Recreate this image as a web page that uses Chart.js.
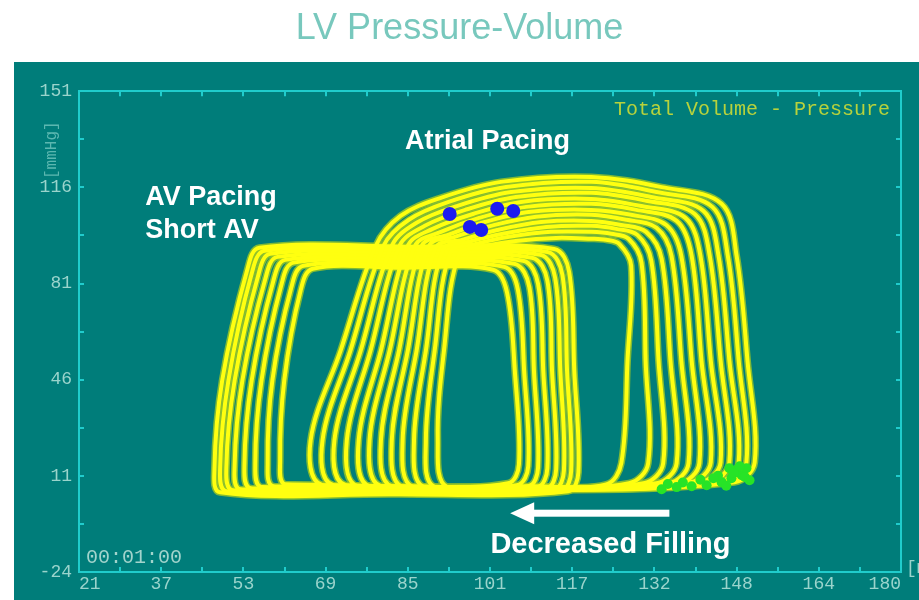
<!DOCTYPE html>
<html>
<head>
<meta charset="utf-8">
<title>LV Pressure-Volume</title>
<script src="https://cdn.jsdelivr.net/npm/chart.js@4.4.1/dist/chart.umd.min.js"></script>
<style>
  html, body { margin: 0; padding: 0; background: #ffffff; }
  canvas { display: block; }
</style>
</head>
<body>
<canvas id="pv" width="919" height="600"></canvas>
<script>
// Axis ranges and tick labels (volume in ml, pressure in mmHg)
const volumeMin = 21, volumeMax = 180;
const pressureMin = -24, pressureMax = 151;
const volumeTickLabels = ['21', '37', '53', '69', '85', '101', '117', '132', '148', '164', '180'];
const pressureTickLabels = ['-24', '11', '46', '81', '116', '151'];

// AV pacing, short AV delay: beats as [volume, pressure] samples
const avBeat1 = [[48.3,5.0],[82.3,4.3],[115.6,5.4],[117.6,12.3],[116.8,49.3],[115.8,85.3],[112.9,93.6],[84.6,94.4],[55.9,94.0],[53.6,86.4],[48.7,45.7],[47.2,13.4]];
const avBeat2 = [[49.5,5.4],[82.3,4.7],[114.3,5.8],[116.2,12.7],[115.4,49.3],[114.5,84.2],[111.6,92.5],[84.4,93.3],[56.9,92.9],[54.5,85.3],[49.9,45.7],[48.3,13.8]];
const avBeat3 = [[50.7,5.8],[82.3,5.0],[112.9,6.1],[114.8,13.0],[114.1,49.3],[113.1,83.1],[110.2,91.5],[84.4,92.2],[58.0,91.8],[55.7,84.2],[51.1,45.7],[49.5,14.1]];
const avBeat4 = [[52.2,6.1],[82.3,5.4],[111.4,6.5],[113.3,13.4],[112.5,49.3],[111.6,82.0],[108.6,90.4],[84.2,91.1],[59.4,90.7],[57.1,83.1],[52.6,45.7],[51.1,14.5]];
const avBeat5 = [[54.2,6.5],[82.3,5.8],[109.6,6.9],[111.6,13.8],[110.8,49.3],[109.8,80.9],[106.9,89.3],[84.2,90.0],[60.9,89.6],[58.6,82.0],[54.4,45.7],[53.0,14.8]];
const avBeat6 = [[56.3,6.9],[82.3,6.1],[107.9,7.2],[109.8,14.1],[109.0,49.3],[108.1,79.8],[105.2,88.2],[84.2,88.9],[62.5,88.6],[60.2,80.9],[56.3,45.7],[55.1,15.2]];
const avBeat7 = [[58.6,7.2],[82.3,6.5],[105.7,7.6],[107.9,14.5],[107.1,49.3],[105.9,78.7],[103.2,87.1],[84.0,87.8],[64.4,87.5],[62.1,79.8],[58.4,45.7],[57.5,15.6]];
const avBeat8 = [[60.9,7.9],[83.2,7.2],[104.0,8.3],[106.1,15.2],[105.3,49.3],[103.8,77.7],[101.1,86.0],[83.2,86.7],[66.2,86.4],[63.9,78.7],[60.7,45.7],[59.9,16.3]];

// Atrial pacing beats
const atrialBeat1  = [[68.1,7.6],[108.4,5.8],[147.8,8.7],[151.7,15.9],[150.3,53.0],[148.2,91.1],[145.3,110.0],[133.7,116.1],[120.1,119.8],[102.6,118.0],[91.0,112.2],[83.2,105.6],[78.4,94.7],[71.6,56.6],[65.8,23.9]];
const atrialBeat2  = [[70.2,7.6],[108.4,6.1],[146.3,8.7],[150.1,15.9],[148.6,53.0],[146.5,91.1],[143.5,108.9],[132.7,114.3],[120.1,118.0],[103.6,116.1],[92.5,110.7],[84.8,104.2],[79.9,94.7],[73.5,56.6],[68.1,23.9]];
const atrialBeat3  = [[72.6,7.6],[108.4,6.1],[144.7,8.7],[148.6,15.9],[146.8,53.0],[144.7,91.1],[141.8,107.4],[131.7,112.5],[120.1,115.8],[104.6,114.3],[94.1,109.2],[86.3,103.1],[81.5,94.7],[75.5,56.6],[70.4,23.9]];
const atrialBeat4  = [[74.9,7.2],[108.4,6.5],[143.0,8.7],[146.8,15.9],[145.1,53.0],[143.0,91.1],[140.1,106.3],[130.7,111.1],[120.1,114.0],[105.5,112.5],[95.7,107.8],[87.9,102.0],[83.0,94.7],[77.4,56.6],[72.8,23.9]];
const atrialBeat5  = [[77.2,7.2],[108.4,6.5],[141.2,8.7],[145.1,15.9],[143.2,53.0],[141.2,91.1],[138.3,104.9],[129.8,109.2],[120.1,111.8],[106.5,110.7],[97.2,106.3],[89.4,100.9],[84.6,94.7],[79.4,56.6],[75.1,23.9]];
const atrialBeat6  = [[79.4,7.2],[108.4,6.5],[139.3,8.7],[143.2,15.9],[141.4,53.0],[139.5,91.1],[136.6,103.8],[128.8,107.8],[120.1,110.0],[107.5,108.9],[98.4,104.9],[91.0,99.8],[86.0,94.7],[81.1,56.6],[77.2,23.9]];
const atrialBeat7  = [[81.5,7.2],[108.4,6.5],[137.1,8.3],[141.0,15.6],[139.5,53.0],[137.5,91.1],[134.6,102.3],[127.8,106.0],[120.1,107.8],[108.4,107.1],[99.5,103.4],[92.4,98.7],[87.3,94.7],[82.9,56.6],[79.4,23.9]];
const atrialBeat8  = [[83.6,6.9],[108.4,6.5],[135.0,8.3],[138.9,15.6],[137.5,53.0],[135.6,91.1],[132.7,101.3],[126.9,104.2],[120.1,106.0],[109.4,105.3],[100.7,102.0],[93.7,98.0],[88.7,94.7],[84.6,56.6],[81.5,23.9]];
const atrialBeat9  = [[85.6,6.9],[108.4,6.5],[132.7,8.3],[136.6,15.6],[135.4,53.0],[133.7,90.0],[130.7,99.8],[125.9,102.3],[120.1,103.8],[110.4,103.4],[101.9,100.5],[95.1,96.9],[90.0,94.0],[86.3,56.6],[83.6,23.9]];
const atrialBeat10 = [[87.7,6.9],[108.4,6.9],[130.2,8.3],[134.0,15.6],[133.1,53.0],[131.7,89.3],[129.0,98.7],[124.9,100.9],[120.1,102.0],[111.4,101.6],[103.0,99.1],[96.4,96.2],[91.4,93.3],[88.1,56.6],[85.8,23.9]];
const atrialBeat11 = [[89.8,6.9],[108.4,6.9],[127.4,8.3],[131.1,15.6],[130.6,53.0],[129.8,88.6],[127.3,97.3],[124.0,99.1],[120.1,99.8],[112.3,99.8],[104.2,98.0],[97.8,95.4],[92.9,92.5],[89.8,56.6],[88.1,23.9]];
const atrialBeat12 = [[92.2,6.9],[108.4,7.2],[123.0,7.9],[125.9,15.6],[127.1,53.0],[127.8,87.5],[125.5,95.4],[123.0,96.9],[120.1,97.3],[113.3,97.6],[105.5,96.5],[99.1,94.4],[94.5,91.5],[91.6,56.6],[90.4,23.9]];

// End-diastolic markers (green) and end-systolic markers (blue)
const edvMarkers = [[148.2,13.0],[149.2,11.2],[147.2,10.1],[150.1,13.8],[146.8,13.8],[148.8,14.5],[147.6,12.0],
                    [149.8,10.6],[145.3,8.7],[144.6,11.0],[142.4,7.6],[141.2,9.6],[139.5,7.2],[137.8,8.6],
                    [136.6,6.9],[134.9,8.0],[133.7,6.1],[150.7,9.4],[143.7,10.1],[146.2,7.4]];
const esvMarkers = [[92.7,106.3],[96.6,101.6],[98.8,100.5],[101.9,108.2],[105.0,107.4]];

const avBeats = [avBeat1, avBeat2, avBeat3, avBeat4, avBeat5, avBeat6, avBeat7, avBeat8];
const atrialBeats = [atrialBeat1, atrialBeat2, atrialBeat3, atrialBeat4, atrialBeat5, atrialBeat6,
                     atrialBeat7, atrialBeat8, atrialBeat9, atrialBeat10, atrialBeat11, atrialBeat12];

// White callouts, anchored in volume / pressure units
const callouts = [
  { text: 'Atrial Pacing', volume: 100.0, pressure: 132.8, align: 'center', size: 27 },
  { text: 'AV Pacing', volume: 33.8, pressure: 112.2, align: 'left', size: 27 },
  { text: 'Short AV', volume: 33.8, pressure: 100.2, align: 'left', size: 27 },
  { text: 'Decreased Filling', volume: 123.8, pressure: -14.2, align: 'center', size: 29 }
];
const fillingArrow = { from: 135.2, to: 104.4, pressure: -2.6 };

// ---------- styling ----------
const monoFont = '"Liberation Mono", "DejaVu Sans Mono", monospace';
const axisCyan = '#20cccc';
const tickText = '#9ad4cc';
const traceYellow = '#ffff10';
const traceEdge = 'rgba(150,196,40,0.85)';

const volumeStep = (volumeMax - volumeMin) / 20;
const pressureStep = (pressureMax - pressureMin) / 10;
const volumeTicks = Array.from({ length: 21 }, (_, i) => volumeMin + i * volumeStep);
const pressureTicks = Array.from({ length: 11 }, (_, i) => pressureMin + i * pressureStep);

const toXY = pts => pts.map(([v, p]) => ({ x: v, y: p }));
// repeat the first two samples so the spline closes smoothly
const closedLoop = pts => toXY(pts.concat([pts[0], pts[1]]));

const datasets = [];
[...atrialBeats, ...avBeats].forEach(beat => {
  datasets.push({
    data: closedLoop(beat), showLine: true, pointRadius: 0, tension: 0.35,
    borderColor: traceEdge, borderWidth: 7, order: 3, borderJoinStyle: 'round'
  });
  datasets.push({
    data: closedLoop(beat), showLine: true, pointRadius: 0, tension: 0.35,
    borderColor: traceYellow, borderWidth: 4, order: 2, borderJoinStyle: 'round'
  });
});
datasets.push({
  data: toXY(edvMarkers), pointRadius: 5, pointBackgroundColor: '#27e327',
  pointBorderWidth: 0, showLine: false, order: 1
});
datasets.push({
  data: toXY(esvMarkers), pointRadius: 7, pointBackgroundColor: '#1b1bf0',
  pointBorderWidth: 0, showLine: false, order: 0
});

function axisLine() {
  return { drawOnChartArea: false, drawTicks: true, tickLength: -5, color: axisCyan, lineWidth: 2 };
}

const panelPlugin = {
  id: 'monitorPanel',
  beforeDraw(chart) {
    const { ctx, width, height } = chart;
    ctx.save();
    ctx.fillStyle = '#ffffff';
    ctx.fillRect(0, 0, width, height);
    ctx.fillStyle = '#007d7a';
    ctx.fillRect(14, 62, width - 14, height - 62);
    ctx.restore();
  },
  afterDraw(chart) {
    const { ctx, chartArea: ca } = chart;
    ctx.save();
    ctx.textBaseline = 'middle';
    ctx.font = '20px ' + monoFont;
    ctx.fillStyle = '#b7d23c';
    ctx.textAlign = 'right';
    ctx.fillText('Total Volume - Pressure', ca.right - 11, ca.top + 19);
    ctx.fillStyle = '#a2d4cc';
    ctx.textAlign = 'left';
    ctx.fillText('00:01:00', ca.left + 7, ca.bottom - 14);
    ctx.font = '18px ' + monoFont;
    ctx.fillStyle = tickText;
    ctx.fillText('[ml]', ca.right + 5, ca.bottom - 4);
    ctx.translate(ca.left - 27, ca.top + 59);
    ctx.rotate(-Math.PI / 2);
    ctx.textAlign = 'center';
    ctx.font = '16px ' + monoFont;
    ctx.fillStyle = 'rgba(130,208,200,0.7)';
    ctx.fillText('[mmHg]', 0, 0);
    ctx.restore();
  }
};

const calloutPlugin = {
  id: 'callouts',
  afterDatasetsDraw(chart) {
    const { ctx, scales: { x, y } } = chart;
    ctx.save();
    ctx.fillStyle = '#ffffff';
    ctx.textBaseline = 'middle';
    callouts.forEach(c => {
      ctx.font = 'bold ' + c.size + 'px "Liberation Sans", Arial, sans-serif';
      ctx.textAlign = c.align;
      ctx.fillText(c.text, x.getPixelForValue(c.volume), y.getPixelForValue(c.pressure));
    });
    const ay = y.getPixelForValue(fillingArrow.pressure);
    const tail = x.getPixelForValue(fillingArrow.from);
    const tip = x.getPixelForValue(fillingArrow.to);
    ctx.fillRect(tip + 20, ay - 3.5, tail - tip - 20, 7);
    ctx.beginPath();
    ctx.moveTo(tip, ay);
    ctx.lineTo(tip + 24, ay - 11);
    ctx.lineTo(tip + 24, ay + 11);
    ctx.closePath();
    ctx.fill();
    ctx.restore();
  }
};

new Chart(document.getElementById('pv'), {
  type: 'scatter',
  data: { datasets },
  plugins: [panelPlugin, calloutPlugin],
  options: {
    responsive: false,
    animation: false,
    devicePixelRatio: 1,
    layout: { padding: 0 },
    plugins: {
      legend: { display: false },
      tooltip: { enabled: false },
      title: {
        display: true,
        text: 'LV Pressure-Volume',
        color: '#78c8bd',
        font: { family: '"Liberation Sans", Arial, sans-serif', size: 36, weight: 'normal' },
        padding: { top: 7, bottom: 41 }
      }
    },
    scales: {
      x: {
        type: 'linear', position: 'bottom', min: volumeMin, max: volumeMax,
        afterBuildTicks: s => { s.ticks = volumeTicks.map(v => ({ value: v })); },
        afterFit: s => { s.height = 28; },
        ticks: {
          autoSkip: false, maxRotation: 0, minRotation: 0, align: 'inner', padding: 6,
          color: tickText, font: { family: monoFont, size: 18 },
          callback: (v, i) => (i % 2 === 0 ? volumeTickLabels[i / 2] : '')
        },
        grid: axisLine(),
        border: { display: true, color: axisCyan, width: 2 }
      },
      x2: {
        type: 'linear', position: 'top', min: volumeMin, max: volumeMax,
        afterBuildTicks: s => { s.ticks = volumeTicks.map(v => ({ value: v })); },
        afterFit: s => { s.height = 0; },
        ticks: { display: false },
        grid: axisLine(),
        border: { display: true, color: axisCyan, width: 2 }
      },
      y: {
        type: 'linear', position: 'left', min: pressureMin, max: pressureMax,
        afterBuildTicks: s => { s.ticks = pressureTicks.map(v => ({ value: v })); },
        afterFit: s => { s.width = 79; },
        ticks: {
          autoSkip: false, padding: 12, color: tickText, font: { family: monoFont, size: 18 },
          callback: (v, i) => (i % 2 === 0 ? pressureTickLabels[i / 2] : '')
        },
        grid: axisLine(),
        border: { display: true, color: axisCyan, width: 2 }
      },
      y2: {
        type: 'linear', position: 'right', min: pressureMin, max: pressureMax,
        afterBuildTicks: s => { s.ticks = pressureTicks.map(v => ({ value: v })); },
        afterFit: s => { s.width = 18; },
        ticks: { display: false },
        grid: axisLine(),
        border: { display: true, color: axisCyan, width: 2 }
      }
    }
  }
});
</script>
</body>
</html>
